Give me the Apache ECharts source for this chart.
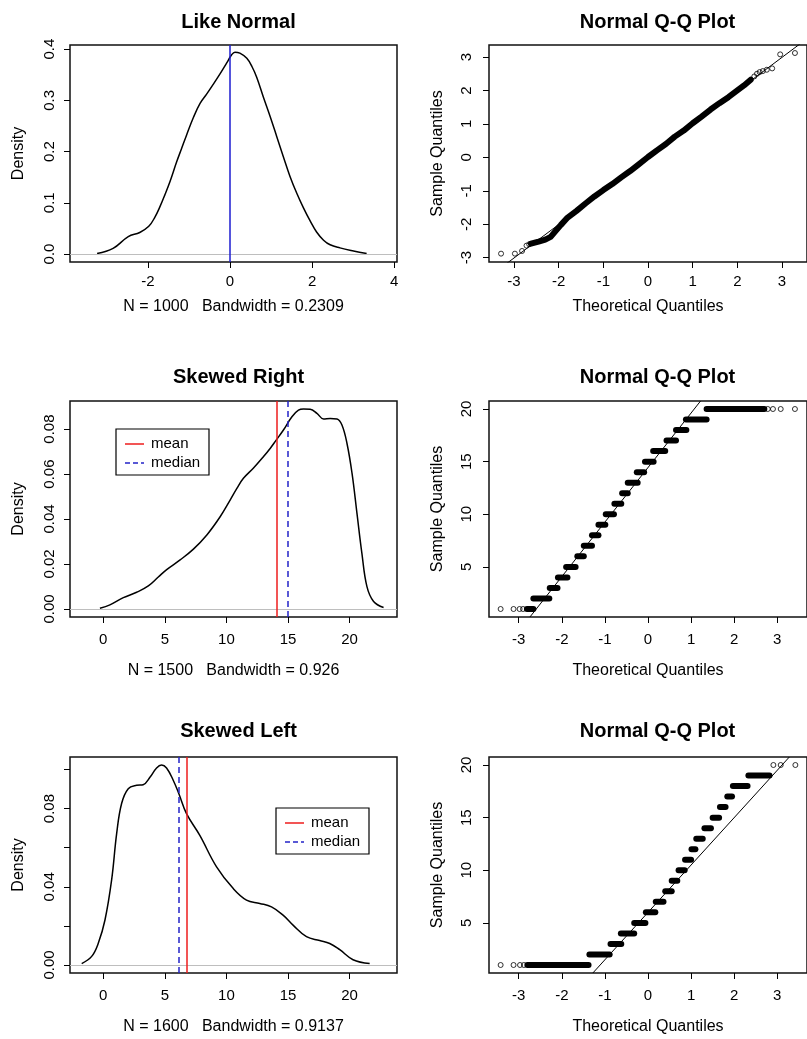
<!DOCTYPE html>
<html>
<head>
<meta charset="utf-8">
<title>Like Normal / Skewed Right / Skewed Left</title>
<script src="https://cdn.jsdelivr.net/npm/echarts@6/dist/echarts.min.js"></script>
<style>
  html, body { margin: 0; padding: 0; background: #fff; }
  #main { width: 807px; height: 1039px; }
</style>
</head>
<body>
<div id="main"></div>
<script>
// density curves: [x, density]
var normalDensity = [
    [-3.24, 0.001], [-2.85, 0.011], [-2.48, 0.034], [-2.20, 0.042], [-1.98, 0.054],
    [-1.83, 0.072], [-1.71, 0.092], [-1.59, 0.115], [-1.46, 0.142], [-1.30, 0.180],
    [-1.18, 0.206], [-1.06, 0.232], [-0.89, 0.267], [-0.73, 0.294], [-0.57, 0.312],
    [-0.41, 0.331], [-0.24, 0.352], [-0.08, 0.373], [0.04, 0.389], [0.12, 0.394],
    [0.24, 0.392], [0.41, 0.382], [0.54, 0.365], [0.65, 0.345], [0.81, 0.307],
    [0.98, 0.268], [1.14, 0.229], [1.30, 0.190], [1.46, 0.152], [1.63, 0.118],
    [1.79, 0.090], [1.95, 0.065], [2.11, 0.043], [2.28, 0.027], [2.44, 0.018],
    [2.68, 0.012], [3.01, 0.006], [3.33, 0.001]
];
var rightDensity = [
    [-0.27, 0.0003], [0.54, 0.0018], [1.63, 0.0050], [2.71, 0.0074], [3.66, 0.0102],
    [4.47, 0.0142], [5.15, 0.0175], [6.24, 0.0218], [7.32, 0.0266], [8.41, 0.0329],
    [9.49, 0.0410], [10.30, 0.0484], [10.85, 0.0536], [11.38, 0.0581], [12.20, 0.0627],
    [13.00, 0.0677], [13.55, 0.0714], [14.04, 0.0751], [14.63, 0.0796], [15.32, 0.0855],
    [15.85, 0.0884], [16.26, 0.0889], [16.80, 0.0888], [17.35, 0.0870], [17.89, 0.0845],
    [18.43, 0.0847], [18.98, 0.0845], [19.38, 0.0818], [19.79, 0.0736], [20.20, 0.0603],
    [20.60, 0.0425], [21.00, 0.0247], [21.41, 0.0099], [21.95, 0.0033], [22.76, 0.0006]
];
var leftDensity = [
    [-1.75, 0.0007], [-0.94, 0.0044], [-0.41, 0.0110], [0.14, 0.0230], [0.68, 0.0435],
    [1.09, 0.0673], [1.49, 0.0826], [2.03, 0.0902], [2.71, 0.0919], [3.24, 0.0922],
    [3.79, 0.0960], [4.33, 0.1008], [4.73, 0.1023], [5.14, 0.1008], [5.68, 0.0945],
    [6.14, 0.0876], [6.76, 0.0774], [7.84, 0.0663], [9.20, 0.0502], [10.54, 0.0392],
    [11.63, 0.0332], [12.71, 0.0315], [13.66, 0.0297], [14.60, 0.0255], [15.41, 0.0204],
    [16.50, 0.0145], [17.57, 0.0125], [18.39, 0.0110], [19.20, 0.0078], [20.28, 0.0027],
    [21.63, 0.0007]
];
var normalCentre = 0;
var rightMean = 14.07, rightMedian = 15.0;
var leftMean = 6.8, leftMedian = 6.15;

// normal Q-Q: the middle is so dense the circles merge into one band
var qqNormalBand = [
    [-2.62, -2.58], [-2.45, -2.52], [-2.30, -2.46], [-2.18, -2.38], [-2.08, -2.22],
    [-1.95, -2.02], [-1.80, -1.80], [-1.60, -1.60], [-1.40, -1.38], [-1.20, -1.17],
    [-1.00, -0.98], [-0.80, -0.80], [-0.60, -0.60], [-0.40, -0.41], [-0.20, -0.20],
    [0.00, 0.01], [0.20, 0.21], [0.40, 0.40], [0.60, 0.62], [0.80, 0.80],
    [1.00, 1.02], [1.20, 1.22], [1.40, 1.43], [1.60, 1.62], [1.80, 1.80],
    [2.00, 2.00], [2.15, 2.15], [2.30, 2.32]
];
var qqNormalPoints = [
    [-3.29, -2.88], [-2.98, -2.88], [-2.82, -2.80], [-2.72, -2.64], [-2.66, -2.60],
    [2.38, 2.42], [2.44, 2.50], [2.50, 2.55], [2.57, 2.58], [2.66, 2.62],
    [2.78, 2.66], [2.96, 3.08], [3.29, 3.12]
];
var qqNormalLine = [[-3.56, -3.57], [3.56, 3.55]];

// discrete samples: each run of equal values is [first quantile, last quantile, value]
var qqRightRuns = [
    [-2.81, -2.66, 1], [-2.66, -2.29, 2], [-2.28, -2.10, 3], [-2.09, -1.87, 4],
    [-1.90, -1.68, 5], [-1.64, -1.49, 6], [-1.49, -1.30, 7], [-1.30, -1.15, 8],
    [-1.15, -0.99, 9], [-0.98, -0.79, 10], [-0.78, -0.62, 11], [-0.60, -0.47, 12],
    [-0.47, -0.24, 13], [-0.26, -0.09, 14], [-0.07, 0.13, 15], [0.12, 0.40, 16],
    [0.43, 0.65, 17], [0.65, 0.89, 18], [0.88, 1.36, 19], [1.36, 2.70, 20]
];
var qqRightPoints = [
    [-3.42, 1], [-3.12, 1], [-2.98, 1], [-2.90, 1],
    [2.78, 20], [2.90, 20], [3.08, 20], [3.41, 20]
];
var qqRightLine = [[-2.74, 0.24], [1.22, 20.76]];

var qqLeftRuns = [
    [-2.80, -1.38, 1], [-1.36, -0.89, 2], [-0.87, -0.62, 3], [-0.63, -0.32, 4],
    [-0.32, -0.06, 5], [-0.05, 0.17, 6], [0.18, 0.36, 7], [0.40, 0.55, 8],
    [0.55, 0.68, 9], [0.71, 0.85, 10], [0.86, 1.00, 11], [1.01, 1.10, 12],
    [1.12, 1.27, 13], [1.31, 1.46, 14], [1.50, 1.65, 15], [1.67, 1.80, 16],
    [1.84, 1.95, 17], [1.97, 2.31, 18], [2.33, 2.82, 19]
];
var qqLeftPoints = [
    [-3.42, 1], [-3.12, 1], [-2.97, 1], [-2.88, 1],
    [2.91, 20], [3.08, 20], [3.42, 20]
];
var qqLeftLine = [[-1.28, 0.24], [3.28, 20.76]];

// tick positions / labels
var normalXTicks = [-2, 0, 2, 4];
var normalYTicks = [0, 0.1, 0.2, 0.3, 0.4];
var skewXTicks = [0, 5, 10, 15, 20];
var rightYTicks = [0, 0.02, 0.04, 0.06, 0.08];
var leftYTicks = [0, 0.02, 0.04, 0.06, 0.08, 0.10];
var leftYLabels = [0, 0.04, 0.08];
var qqXTicks = [-3, -2, -1, 0, 1, 2, 3];
var qqNormalYTicks = [-3, -2, -1, 0, 1, 2, 3];
var qqSkewYTicks = [5, 10, 15, 20];

var FONT = "'Liberation Sans', Arial, Helvetica, sans-serif";
var myChart = echarts.init(document.getElementById('main'));

function fixed(d) {
    return function (v) { return Number(v).toFixed(d); };
}

function xAxisFor(grid, min, max, ticks, name, labelMargin, nameGap) {
    return {
        type: 'value', gridIndex: grid, min: min, max: max,
        name: name, nameLocation: 'middle', nameGap: nameGap,
        nameTextStyle: { fontFamily: FONT, fontSize: 16, color: '#000' },
        axisLine: { show: false, onZero: false },
        axisTick: { show: true, inside: false, length: 6, customValues: ticks,
            lineStyle: { color: '#000', width: 1 } },
        axisLabel: { customValues: ticks, margin: labelMargin, fontFamily: FONT,
            fontSize: 15, color: '#000', formatter: fixed(0) },
        splitLine: { show: false }
    };
}

function yAxisFor(grid, min, max, ticks, labels, digits, name, labelMargin) {
    return {
        type: 'value', gridIndex: grid, min: min, max: max,
        name: name, nameLocation: 'middle', nameGap: 43, nameRotate: 90,
        nameTextStyle: { fontFamily: FONT, fontSize: 16, color: '#000' },
        axisLine: { show: false, onZero: false },
        axisTick: { show: true, inside: false, length: 6, customValues: ticks,
            lineStyle: { color: '#000', width: 1 } },
        axisLabel: { customValues: labels, margin: labelMargin, rotate: 90, fontFamily: FONT,
            fontSize: 15, color: '#000', formatter: fixed(digits) },
        splitLine: { show: false }
    };
}

function densitySeries(grid, data, lines) {
    var marks = [{ yAxis: 0, lineStyle: { color: '#bebebe', width: 1, type: 'solid' } }];
    lines.forEach(function (l) {
        marks.push({ xAxis: l.x, lineStyle: { color: l.color, width: 1.5, type: l.type } });
    });
    return {
        type: 'line', xAxisIndex: grid, yAxisIndex: grid, data: data,
        showSymbol: false, smooth: 0.4, silent: true,
        lineStyle: { color: '#000', width: 1.5 },
        markLine: { symbol: 'none', silent: true, label: { show: false },
            animation: false, data: marks }
    };
}

function runsSeries(grid, data) {
    return {
        type: 'custom', xAxisIndex: grid, yAxisIndex: grid, data: data, silent: true,
        encode: { x: [0, 1], y: 2 },
        renderItem: function (params, api) {
            var a = api.coord([api.value(0), api.value(2)]);
            var b = api.coord([api.value(1), api.value(2)]);
            return {
                type: 'line',
                shape: { x1: a[0], y1: a[1], x2: b[0], y2: b[1] },
                style: { stroke: '#000', lineWidth: 6, lineCap: 'round' }
            };
        }
    };
}

function pointsSeries(grid, data) {
    return {
        type: 'scatter', xAxisIndex: grid, yAxisIndex: grid, data: data, silent: true,
        symbol: 'circle', symbolSize: 5,
        itemStyle: { color: 'rgba(0,0,0,0)', borderColor: '#000', borderWidth: 1 }
    };
}

function refLine(grid, data) {
    return {
        type: 'line', xAxisIndex: grid, yAxisIndex: grid, data: data, silent: true,
        showSymbol: false, clip: true, lineStyle: { color: '#000', width: 1 }
    };
}

function titleAt(text, cx, top) {
    return { text: text, left: cx, top: top, textAlign: 'center',
        textStyle: { fontFamily: FONT, fontSize: 20, fontWeight: 'bold', color: '#000' } };
}

function legendBox(x, y) {
    return [
        { type: 'rect', z: 100, shape: { x: x, y: y, width: 93, height: 46 },
          style: { fill: '#fff', stroke: '#000', lineWidth: 1.2 } },
        { type: 'line', z: 101, shape: { x1: x + 9, y1: y + 15, x2: x + 28, y2: y + 15 },
          style: { stroke: '#ee1c1c', lineWidth: 1.5 } },
        { type: 'line', z: 101, shape: { x1: x + 9, y1: y + 34, x2: x + 28, y2: y + 34 },
          style: { stroke: '#2323c8', lineWidth: 1.5, lineDash: [5, 3] } },
        { type: 'text', z: 101, x: x + 35, y: y + 15,
          style: { text: 'mean', fontFamily: FONT, fontSize: 15, fill: '#000', verticalAlign: 'middle' } },
        { type: 'text', z: 101, x: x + 35, y: y + 34,
          style: { text: 'median', fontFamily: FONT, fontSize: 15, fill: '#000', verticalAlign: 'middle' } }
    ];
}

var boxStyle = { show: true, borderColor: '#111', borderWidth: 1.5, backgroundColor: 'transparent' };

var option = {
    backgroundColor: '#fff',
    animation: false,
    title: [
        titleAt('Like Normal', 233.5, 7),
        titleAt('Normal Q-Q Plot', 652.5, 7),
        titleAt('Skewed Right', 233.5, 362),
        titleAt('Normal Q-Q Plot', 652.5, 362),
        titleAt('Skewed Left', 233.5, 716),
        titleAt('Normal Q-Q Plot', 652.5, 716)
    ],
    grid: [
        Object.assign({ left: 70, top: 45, width: 327, height: 217 }, boxStyle),
        Object.assign({ left: 489, top: 45, width: 327, height: 217 }, boxStyle),
        Object.assign({ left: 70, top: 401, width: 327, height: 216 }, boxStyle),
        Object.assign({ left: 489, top: 401, width: 327, height: 216 }, boxStyle),
        Object.assign({ left: 70, top: 757, width: 327, height: 216 }, boxStyle),
        Object.assign({ left: 489, top: 757, width: 327, height: 216 }, boxStyle)
    ],
    xAxis: [
        xAxisFor(0, -3.9, 4.07, normalXTicks, 'N = 1000   Bandwidth = 0.2309', 12, 37),
        xAxisFor(1, -3.56, 3.56, qqXTicks, 'Theoretical Quantiles', 12, 37),
        xAxisFor(2, -2.7, 23.85, skewXTicks, 'N = 1500   Bandwidth = 0.926', 15, 46),
        xAxisFor(3, -3.69, 3.69, qqXTicks, 'Theoretical Quantiles', 15, 46),
        xAxisFor(4, -2.7, 23.85, skewXTicks, 'N = 1600   Bandwidth = 0.9137', 15, 46),
        xAxisFor(5, -3.69, 3.69, qqXTicks, 'Theoretical Quantiles', 15, 46)
    ],
    yAxis: [
        yAxisFor(0, -0.0156, 0.408, normalYTicks, normalYTicks, 1, 'Density', 13),
        yAxisFor(1, -3.13, 3.36, qqNormalYTicks, qqNormalYTicks, 0, 'Sample Quantiles', 15),
        yAxisFor(2, -0.0036, 0.0925, rightYTicks, rightYTicks, 2, 'Density', 13),
        yAxisFor(3, 0.24, 20.76, qqSkewYTicks, qqSkewYTicks, 0, 'Sample Quantiles', 15),
        yAxisFor(4, -0.0041, 0.1064, leftYTicks, leftYLabels, 2, 'Density', 13),
        yAxisFor(5, 0.24, 20.76, qqSkewYTicks, qqSkewYTicks, 0, 'Sample Quantiles', 15)
    ],
    series: [
        densitySeries(0, normalDensity, [{ x: normalCentre, color: '#1c1cd0', type: 'solid' }]),
        refLine(1, qqNormalLine),
        {
            type: 'line', xAxisIndex: 1, yAxisIndex: 1, data: qqNormalBand, silent: true,
            showSymbol: false, lineStyle: { color: '#000', width: 6, cap: 'round', join: 'round' }
        },
        pointsSeries(1, qqNormalPoints),
        densitySeries(2, rightDensity, [
            { x: rightMean, color: '#ee1c1c', type: 'solid' },
            { x: rightMedian, color: '#2323c8', type: [6, 4] }
        ]),
        refLine(3, qqRightLine),
        runsSeries(3, qqRightRuns),
        pointsSeries(3, qqRightPoints),
        densitySeries(4, leftDensity, [
            { x: leftMedian, color: '#2323c8', type: [6, 4] },
            { x: leftMean, color: '#ee1c1c', type: 'solid' }
        ]),
        refLine(5, qqLeftLine),
        runsSeries(5, qqLeftRuns),
        pointsSeries(5, qqLeftPoints)
    ],
    graphic: legendBox(116, 429).concat(legendBox(276, 808))
};

myChart.setOption(option);
</script>
</body>
</html>
